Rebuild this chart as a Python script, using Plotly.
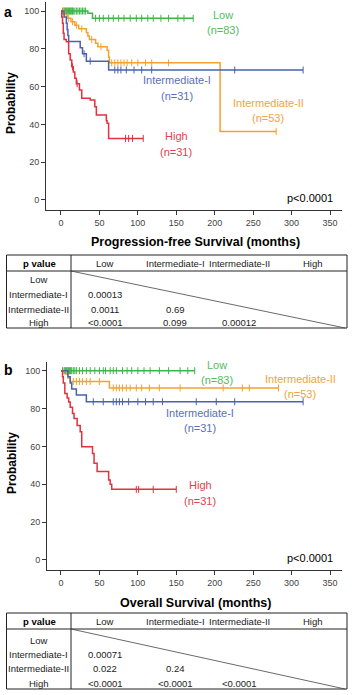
import plotly.graph_objects as go

W, H = 352, 695

# ---------------- Data: Progression-free survival (panel a) ----------------
pfs_low_t = [0, 35, 41, 172]
pfs_low_s = [100, 98.8, 96.2, 96.2]
pfs_low_c = [2, 4, 5, 6, 7, 8, 9, 10, 11, 12, 13, 14, 15, 16, 18, 20, 22, 24, 26, 28, 30, 32,
             45, 50, 55, 62, 68, 75, 82, 90, 98, 105, 113, 120, 130, 140, 152, 160, 172]

pfs_int2_t = [0, 5, 8, 13, 18, 23, 33, 35, 37, 45, 48, 60, 62, 63, 207, 280]
pfs_int2_s = [100, 98.1, 96.2, 94.3, 92.5, 90.6, 88.7, 86.8, 84.9, 83.0, 81.1, 79.2, 75.5, 72.6, 36.3, 36.3]
pfs_int2_c = [3, 10, 15, 20, 27, 40, 52, 66, 70, 74, 78, 82, 86, 92, 100, 110, 118, 140, 280]

pfs_int1_t = [0, 4, 7, 8, 9, 10, 25, 28, 33, 62, 315]
pfs_int1_s = [100, 96.8, 93.5, 90.3, 87.1, 83.9, 80.6, 77.4, 73.5, 68.8, 68.8]
pfs_int1_c = [30, 38, 70, 74, 78, 85, 95, 105, 118, 226, 315]

pfs_high_t = [0, 1, 2, 3, 4, 7, 10, 12, 14, 16, 18, 20, 24, 27, 38, 44, 46, 59, 60, 62, 107]
pfs_high_s = [100, 96.8, 93.5, 88.2, 85.0, 83.8, 77.4, 74.1, 70.5, 67.7, 64.5, 61.5, 58.2, 53.8, 52.9, 49.4, 45.0, 42.0, 40.6, 32.6, 32.6]
pfs_high_c = [15, 21, 84, 88, 93, 107]

# ---------------- Data: Overall survival (panel b) ----------------
os_low_t = [0, 174]
os_low_s = [100, 100]
os_low_c = [2, 4, 5, 6, 7, 8, 9, 10, 11, 12, 13, 14, 16, 18, 20, 24, 28, 33, 38, 44, 50, 55, 58,
            64, 68, 72, 80, 86, 92, 100, 108, 116, 128, 140, 155, 165, 174]

os_int2_t = [0, 7, 9, 12, 63, 283]
os_int2_s = [100, 98.1, 96.2, 94.3, 90.9, 90.9]
os_int2_c = [16, 20, 24, 28, 33, 38, 50, 68, 72, 76, 80, 85, 90, 98, 105, 115, 128, 155, 211, 236, 245, 283]

os_int1_t = [0, 9, 12, 14, 20, 33, 315]
os_int1_s = [100, 96.8, 93.5, 90.3, 87.1, 83.6, 83.6]
os_int1_c = [42, 55, 68, 72, 76, 80, 88, 100, 110, 120, 132, 176, 202, 226, 315]

os_high_t = [0, 2, 3, 5, 8, 10, 12, 15, 17, 21, 25, 27, 41, 43, 47, 62, 64, 66, 150]
os_high_s = [100, 96.8, 93.5, 88.0, 85.6, 83.4, 80.7, 77.4, 74.8, 71.0, 67.8, 59.8, 56.3, 51.1, 46.7, 42.3, 40.0, 37.3, 37.3]
os_high_c = [98, 101, 120, 150]

group_names = ["Low", "Intermediate-I", "Intermediate-II", "High"]
group_n = [83, 31, 53, 31]

pfs_p_rows = [[], ["0.00013"], ["0.0011", "0.69"], ["&lt;0.0001", "0.099", "0.00012"]]
os_p_rows = [[], ["0.00071"], ["0.022", "0.24"], ["&lt;0.0001", "&lt;0.0001", "&lt;0.0001"]]

x_ticks = [0, 50, 100, 150, 200, 250, 300, 350]
y_ticks = [0, 20, 40, 60, 80, 100]

# ---------------- Styles ----------------
FONT = "Liberation Sans, Arial, sans-serif"
C_GREEN, C_BLUE, C_ORANGE, C_RED = "#3DB54A", "#4A62AE", "#F4A12F", "#E2313F"
T_GREEN, T_BLUE, T_ORANGE, T_RED = "#52BD5E", "#5A6FB8", "#F0A43E", "#E4404C"
AX = "#333333"


def px(x):
    return x / W


def py(y):
    return 1 - y / H


def surv_at(ts, ss, c):
    v = ss[0]
    for t, s in zip(ts, ss):
        if t <= c:
            v = s
    return v


fig = go.Figure()

panels = [
    ("x", "y", [(pfs_low_t, pfs_low_s, pfs_low_c, C_GREEN),
                (pfs_int2_t, pfs_int2_s, pfs_int2_c, C_ORANGE),
                (pfs_int1_t, pfs_int1_s, pfs_int1_c, C_BLUE),
                (pfs_high_t, pfs_high_s, pfs_high_c, C_RED)]),
    ("x2", "y2", [(os_low_t, os_low_s, os_low_c, C_GREEN),
                  (os_int2_t, os_int2_s, os_int2_c, C_ORANGE),
                  (os_int1_t, os_int1_s, os_int1_c, C_BLUE),
                  (os_high_t, os_high_s, os_high_c, C_RED)]),
]

for xa, ya, series in panels:
    for ts, ss, cs, col in series:
        fig.add_trace(go.Scatter(x=ts, y=ss, mode="lines", line=dict(color=col, width=1.5, shape="hv"),
                                 xaxis=xa, yaxis=ya, showlegend=False, hoverinfo="skip"))
        fig.add_trace(go.Scatter(x=cs, y=[surv_at(ts, ss, c) for c in cs], mode="markers",
                                 marker=dict(symbol="line-ns-open", size=5, color=col,
                                             line=dict(color=col, width=1)),
                                 xaxis=xa, yaxis=ya, showlegend=False, hoverinfo="skip"))

axis_common = dict(showline=True, linecolor=AX, linewidth=1, ticks="outside", ticklen=4,
                   tickcolor=AX, tickwidth=1, showgrid=False, zeroline=False,
                   tickfont=dict(family=FONT, size=9, color="#444"))

fig.update_layout(
    width=W, height=H, margin=dict(l=0, r=0, t=0, b=0),
    paper_bgcolor="white", plot_bgcolor="white",
    font=dict(family=FONT),
    xaxis=dict(domain=[px(46), px(342)], range=[-19.5, 365.6], tickvals=x_ticks, anchor="y", **axis_common),
    yaxis=dict(domain=[py(210), py(2)], range=[-5.3, 104.8], tickvals=y_ticks, anchor="x", **axis_common),
    xaxis2=dict(domain=[px(47), px(342)], range=[-18.2, 365.6], tickvals=x_ticks, anchor="y2", **axis_common),
    yaxis2=dict(domain=[py(570), py(362)], range=[-5.3, 104.6], tickvals=y_ticks, anchor="x2", **axis_common),
)

ann = []


def text(x, y, t, size=11, color="black", bold=False, angle=0, xanchor="center"):
    ann.append(dict(x=px(x), y=py(y), xref="paper", yref="paper", text=(f"<b>{t}</b>" if bold else t),
                    showarrow=False, xanchor=xanchor, yanchor="middle", textangle=angle,
                    font=dict(family=FONT, size=size, color=color)))


# Panel labels and axis titles
text(8, 12, "a", 14, bold=True)
text(8, 370, "b", 14, bold=True)
text(11, 103, "Probability", 12, bold=True, angle=-90)
text(12, 463, "Probability", 12, bold=True, angle=-90)
text(195, 242, "Progression-free Survival (months)", 12.5, bold=True)
text(196, 603, "Overall Survival (months)", 12.5, bold=True)

# Group labels panel a
text(223, 15, group_names[0], 11, T_GREEN)
text(223, 30, f"(n={group_n[0]})", 11, T_GREEN)
text(177, 80, group_names[1], 11, T_BLUE)
text(177, 96, f"(n={group_n[1]})", 11, T_BLUE)
text(268, 103, group_names[2], 11, T_ORANGE)
text(268, 118, f"(n={group_n[2]})", 11, T_ORANGE)
text(176, 136, group_names[3], 11, T_RED)
text(176, 152, f"(n={group_n[3]})", 11, T_RED)
text(335, 198, "p&lt;0.0001", 11, "black", xanchor="right")

# Group labels panel b
text(217, 365, group_names[0], 11, T_GREEN)
text(217, 380, f"(n={group_n[0]})", 11, T_GREEN)
text(300, 379, group_names[2], 11, T_ORANGE)
text(300, 394, f"(n={group_n[2]})", 11, T_ORANGE)
text(200, 413, group_names[1], 11, T_BLUE)
text(200, 428, f"(n={group_n[1]})", 11, T_BLUE)
text(200, 485, group_names[3], 11, T_RED)
text(200, 501, f"(n={group_n[3]})", 11, T_RED)
text(335, 558, "p&lt;0.0001", 11, "black", xanchor="right")

shapes = []


def line(x0, y0, x1, y1, w=1, color="#222"):
    shapes.append(dict(type="line", xref="paper", yref="paper", x0=px(x0), y0=py(y0), x1=px(x1), y1=py(y1),
                       line=dict(color=color, width=w)))


col_x = [105, 175, 239, 313]


def table(top, head_bot, bot, row_y, p_rows):
    left, right, div = 6.5, 347, 71
    shapes.append(dict(type="rect", xref="paper", yref="paper", x0=px(left), y0=py(bot), x1=px(right), y1=py(top),
                       line=dict(color="#222", width=1)))
    line(left, head_bot, right, head_bot)
    line(div, top, div, bot)
    line(div, head_bot, right - 2, bot, w=0.8, color="#444")
    hy = (top + head_bot) / 2
    text(39, hy, "p value", 9.5, bold=True)
    for cx, g in zip(col_x, group_names):
        text(cx, hy, g, 9.5, "#222")
    for ry, g, vals in zip(row_y, group_names, p_rows):
        text(38.5, ry, g, 9.5, "#222")
        for cx, v in zip(col_x, vals):
            text(cx, ry, v, 9.5, "#222")


table(255, 271, 328, [279, 294, 309, 323], pfs_p_rows)
table(613, 629, 689, [640, 654, 668, 683], os_p_rows)

fig.update_layout(annotations=ann, shapes=shapes)
fig.write_html("out.html")
